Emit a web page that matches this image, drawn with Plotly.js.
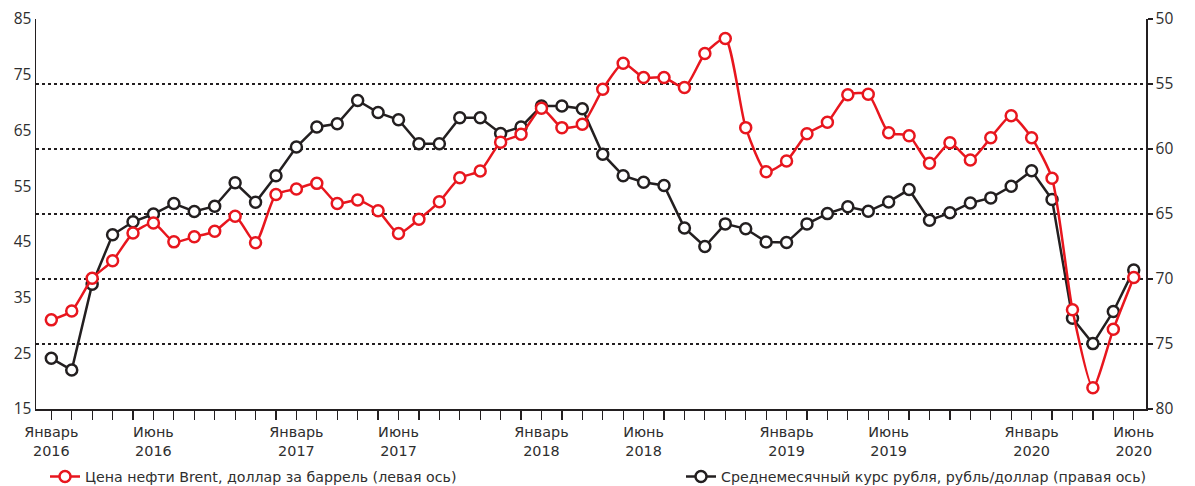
<!DOCTYPE html>
<html><head><meta charset="utf-8">
<script src="https://cdn.plot.ly/plotly-3.0.1.min.js"></script>
<style>html,body{margin:0;padding:0;background:#fff}#chart{width:1195px;height:486px}</style>
</head><body><div id="chart"></div>
<script>
const monthNames = ['Январь','Февраль','Март','Апрель','Май','Июнь','Июль','Август','Сентябрь','Октябрь','Ноябрь','Декабрь'];
const years = [2016, 2017, 2018, 2019, 2020];
const shownMonths = ['Январь', 'Июнь'];
const nMonths = 54; // Январь 2016 – Июнь 2020

// Цена нефти Brent, доллар за баррель (левая ось)
const brent = [31.0, 32.6, 38.45, 41.6, 46.6, 48.4, 45.0, 45.9, 46.9, 49.6, 44.85, 53.5,
               54.5, 55.5, 51.9, 52.5, 50.6, 46.5, 49.05, 52.2, 56.5, 57.7, 62.9, 64.3,
               69.0, 65.5, 66.1, 72.4, 77.05, 74.5, 74.5, 72.7, 78.8, 81.5, 65.5, 57.6,
               59.5, 64.4, 66.45, 71.4, 71.5, 64.6, 64.05, 59.1, 62.8, 59.7, 63.7, 67.65,
               63.7, 56.4, 32.8, 18.8, 29.3, 38.6];
// Среднемесячный курс рубля, рубль/доллар (правая ось)
const rub = [76.1, 77.0, 70.4, 66.6, 65.6, 65.0, 64.2, 64.8, 64.4, 62.6, 64.1, 62.05,
             59.85, 58.3, 58.06, 56.27, 57.2, 57.75, 59.6, 59.6, 57.6, 57.6, 58.8, 58.3,
             56.7, 56.7, 56.9, 60.4, 62.05, 62.56, 62.8, 66.07, 67.5, 65.76, 66.14, 67.15,
             67.2, 65.76, 64.97, 64.45, 64.79, 64.07, 63.12, 65.48, 64.91, 64.15, 63.76, 62.87,
             61.67, 63.89, 73.02, 74.97, 72.5, 69.3];

const leftTicks = [15, 25, 35, 45, 55, 65, 75, 85];
const rightTicks = [50, 55, 60, 65, 70, 75, 80];

const xIdx = [], tickText = [];
for (let i = 0; i < nMonths; i++) {
  const m = monthNames[i % 12];
  const y = years[Math.floor(i / 12)];
  xIdx.push(i);
  tickText.push(shownMonths.includes(m) ? m + '<br>' + y : '');
}

const RED = '#e8161e', BLK = '#231f20', TXT = '#2e2e2e';
const FONT = '"DejaVu Sans", "Open Sans", sans-serif';
const NUMFONT = '"Open Sans", Roboto, sans-serif';

const traces = [
  {
    x: xIdx, y: rub, yaxis: 'y', type: 'scatter', mode: 'lines+markers',
    name: 'Среднемесячный курс рубля, рубль/доллар (правая ось)',
    legend: 'legend2',
    line: {color: BLK, width: 2.5},
    marker: {symbol: 'circle', size: 11, color: '#fff', line: {color: BLK, width: 2.5}}
  },
  {
    x: xIdx, y: brent, yaxis: 'y2', type: 'scatter', mode: 'lines+markers',
    name: 'Цена нефти Brent, доллар за баррель (левая ось)',
    legend: 'legend',
    line: {color: RED, width: 2.5, shape: 'spline', smoothing: 0.6},
    marker: {symbol: 'circle', size: 11, color: '#fff', line: {color: RED, width: 2.5}}
  }
];

const legendBase = {
  orientation: 'h', xref: 'container', yref: 'container',
  y: 0.019, xanchor: 'left', yanchor: 'middle',
  font: {family: FONT, size: 14.2, color: TXT}, bgcolor: 'rgba(0,0,0,0)'
};

const layout = {
  width: 1195, height: 486,
  margin: {l: 36, r: 49, t: 19, b: 77},
  paper_bgcolor: '#fff', plot_bgcolor: '#fff',
  font: {family: FONT, size: 14.2, color: TXT},
  showlegend: true,
  legend: Object.assign({}, legendBase, {x: 45 / 1195}),
  legend2: Object.assign({}, legendBase, {x: 681 / 1195}),
  xaxis: {
    range: [-0.75, 53.6], tickmode: 'array', tickvals: xIdx, ticktext: tickText,
    showgrid: false, zeroline: false, showline: true, linecolor: BLK, linewidth: 1.5,
    ticks: 'outside', ticklen: 9, tickcolor: BLK, tickwidth: 1.2,
    tickangle: 0, tickfont: {family: FONT, size: 14.4, color: TXT}
  },
  yaxis: {
    side: 'right', range: [80, 50], tickmode: 'array', tickvals: rightTicks,
    showgrid: true, gridcolor: BLK, gridwidth: 2, griddash: 'dot',
    zeroline: false, showline: true, linecolor: BLK, linewidth: 1.5,
    ticks: 'outside', ticklen: 5, tickcolor: BLK, tickwidth: 1.2,
    tickfont: {family: NUMFONT, size: 15.5, color: TXT}
  },
  yaxis2: {
    side: 'left', overlaying: 'y', range: [15, 85], tickmode: 'array', tickvals: leftTicks,
    showgrid: false, zeroline: false, showline: true, linecolor: BLK, linewidth: 1.5,
    ticks: '', tickfont: {family: NUMFONT, size: 15.5, color: TXT}
  }
};

Plotly.newPlot('chart', traces, layout, {displayModeBar: false, staticPlot: true});
</script>
</body></html>
